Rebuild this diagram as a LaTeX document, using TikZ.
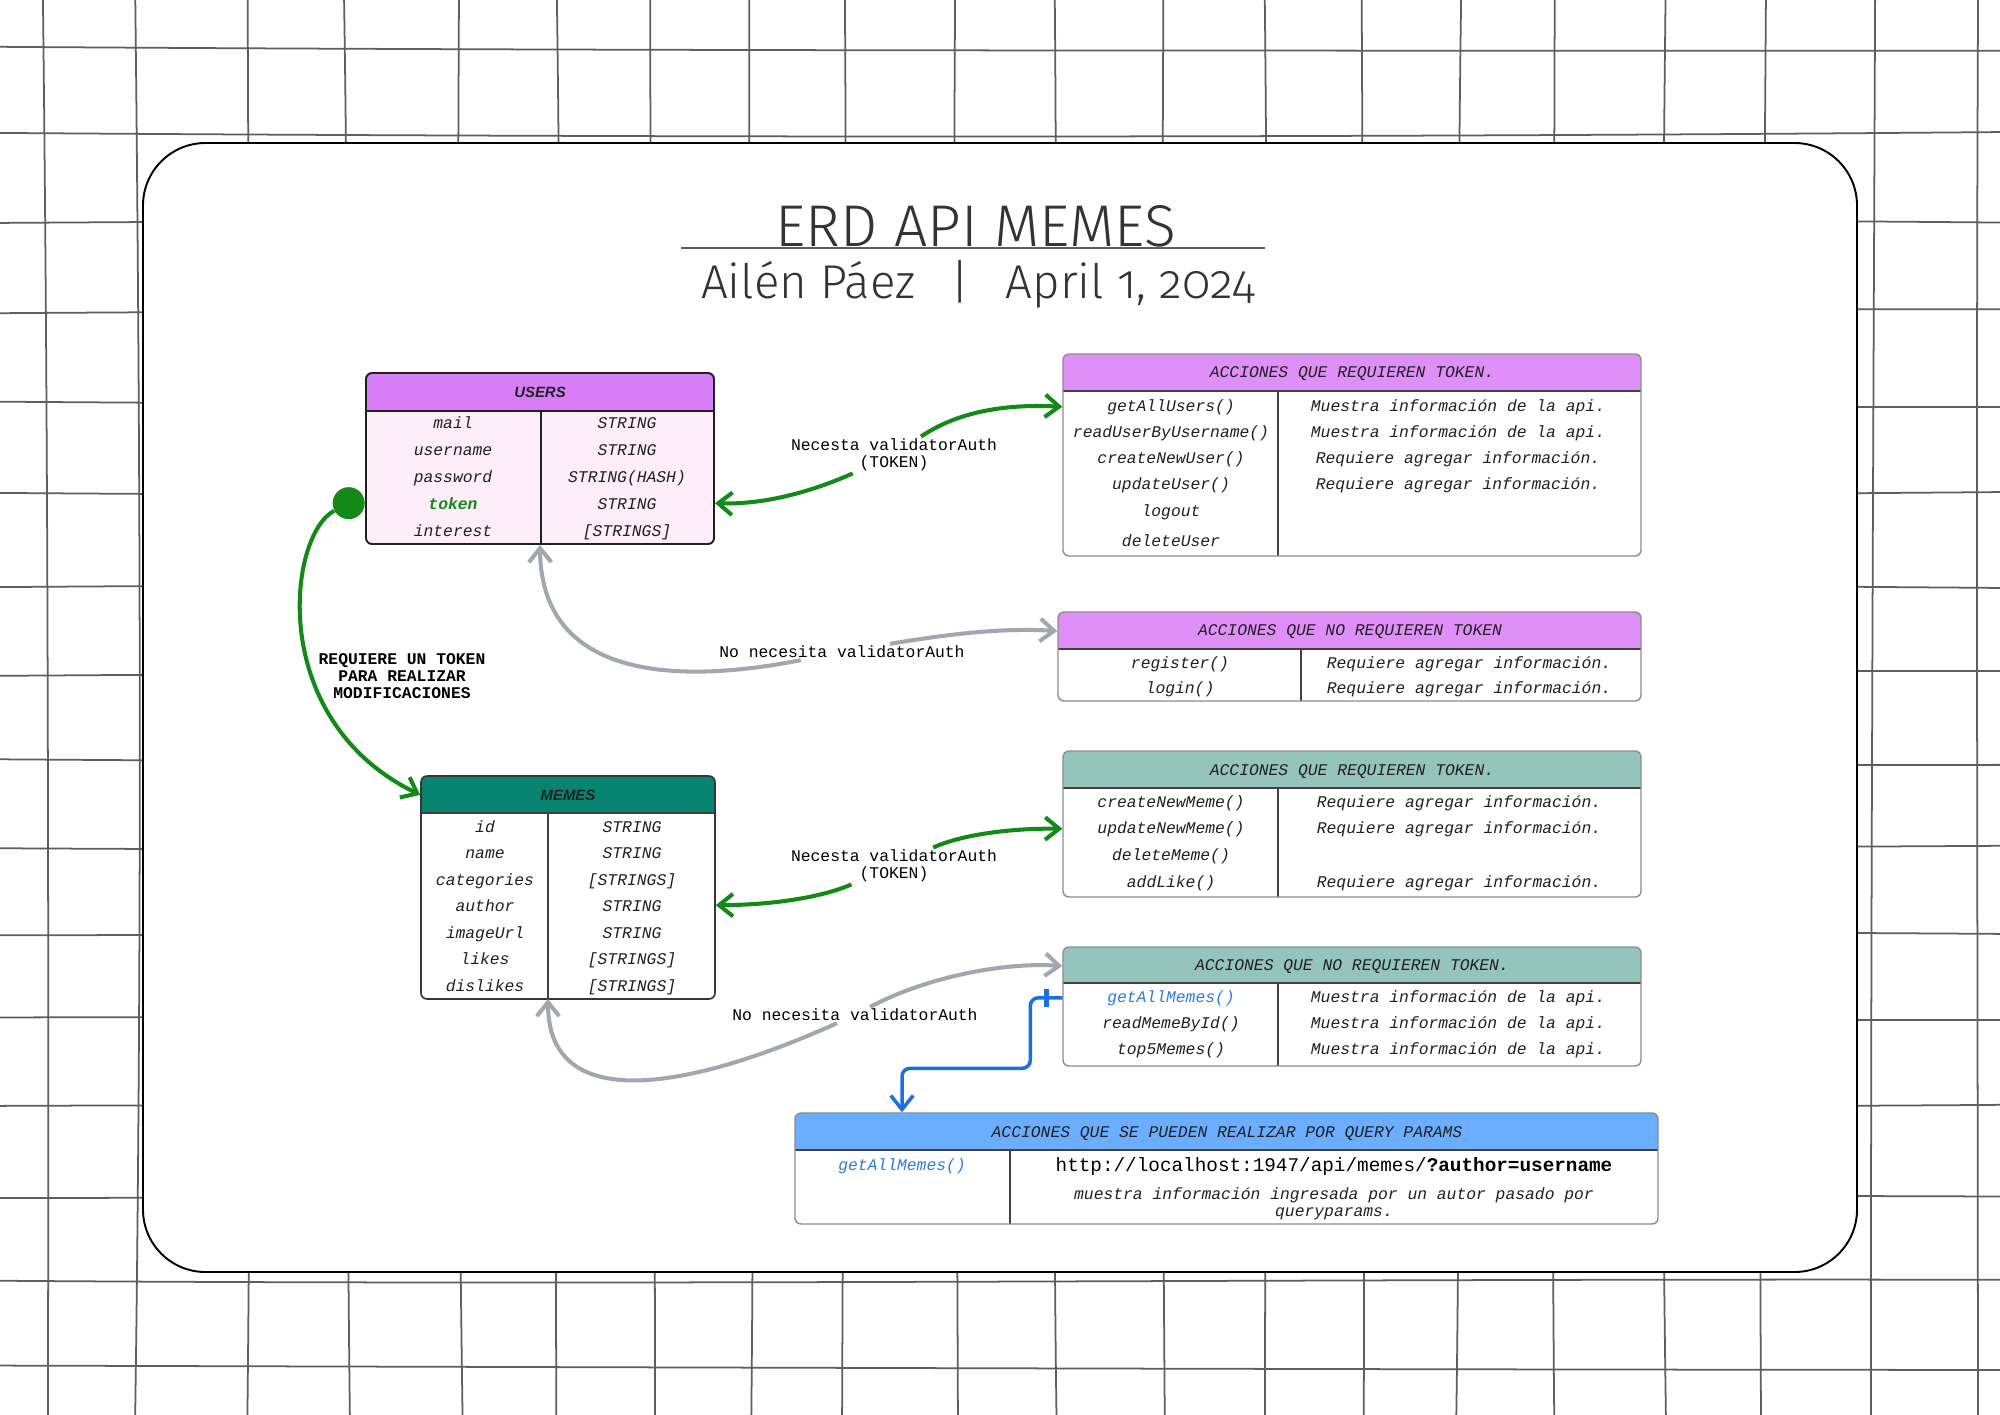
\documentclass[tikz,border=0pt]{standalone}
\usepackage{fontspec}
\usepackage{xcolor}
\usepackage{tikz}
\usetikzlibrary{arrows.meta,fit,calc}
\setmainfont{Liberation Sans}
\newfontfamily\monofont{Liberation Mono}
\newfontfamily\headfont{Liberation Sans}
\newfontfamily\titlefont{Fira Sans Light}[Numbers=OldStyle]
\definecolor{erdgrid}{HTML}{5E5E5E}
\definecolor{erdink}{HTML}{202020}
\definecolor{erdline}{HTML}{8C8C8C}
\definecolor{titlegray}{HTML}{333333}
\definecolor{userhead}{HTML}{D77EF6}
\definecolor{userbody}{HTML}{FEEEFB}
\definecolor{useract}{HTML}{DF8FF8}
\definecolor{memehead}{HTML}{068470}
\definecolor{memeact}{HTML}{95C4BD}
\definecolor{queryhead}{HTML}{6BAEFF}
\definecolor{tokengreen}{HTML}{138A17}
\definecolor{freegray}{HTML}{A2A6AE}
\definecolor{queryblue}{HTML}{1C6FE3}
\definecolor{linkblue}{HTML}{2F7BE0}
\tikzset{
  gridrule/.style={draw=erdgrid,line width=1pt},
  tblbox/.style={draw=erdline,line width=0.8pt,rounded corners=0.12cm,inner sep=0pt},
  tblrule/.style={draw=erdink!85,line width=0.8pt},
  cell/.style={font=\monofont\itshape\fontsize{9.3}{11}\selectfont,text=erdink,anchor=base,inner sep=1pt},
  tblhead/.style={font=\headfont\bfseries\itshape\fontsize{8.5}{10}\selectfont,text=erdink,anchor=base},
  linklbl/.style={font=\monofont\fontsize{9.3}{9.9}\selectfont,text=black,align=center,inner sep=1pt},
  tokenline/.style={draw=tokengreen,line width=2.3pt,-{Straight Barb[length=0.28cm,width=0.45cm]}},
  freeline/.style={draw=freegray,line width=2.3pt,-{Straight Barb[length=0.28cm,width=0.45cm]}},
  queryline/.style={draw=queryblue,line width=2pt,rounded corners=0.16cm,-{Straight Barb[length=0.28cm,width=0.45cm]}},
  onebar/.style={sharp corners,fill=queryblue,minimum width=0.09cm,minimum height=0.36cm,inner sep=0pt},
  tokdot/.style={circle,fill=tokengreen,minimum size=0.64cm,inner sep=0pt}
}
\begin{document}
\begin{tikzpicture}[x=0.02cm,y=-0.02cm]
\useasboundingbox (0,0) rectangle (2000,1414);
\fill[white] (0,0) rectangle (2000,1414);
% hand drawn grid
\begin{scope}
\clip (0,0) rectangle (2000,1414);
\foreach \gx in {45,138,250,347,460,559,653,751,843,957,1055,1166,1267,1361,1459,1552,1663,1763,1874,1977}
  \draw[gridrule] ({\gx+3*sin(7*\gx)},-5) .. controls ({\gx-5*sin(5*\gx)},470) and ({\gx+5*sin(3*\gx)},940) .. ({\gx-3*sin(6*\gx)},1419);
\foreach \gy in {48,135,220,312,404,495,585,674,762,848,933,1020,1106,1195,1282,1367}
  \draw[gridrule] (-5,{\gy+3*sin(7*\gy)}) .. controls (667,{\gy-4*sin(5*\gy)}) and (1333,{\gy+4*sin(3*\gy)}) .. (2005,{\gy-3*sin(6*\gy)});
\end{scope}
\draw[fill=white,line width=1.1pt,rounded corners=1.25cm] (143,143) rectangle (1857,1272);

% title
\node[font=\titlefont\fontsize{33.5}{38}\selectfont,text=titlegray,anchor=base] (title) at (976,246) {ERD API MEMES};
\draw[erdgrid,line width=1pt] (681,248) -- (1265,248);
\node[font=\titlefont\fontsize{27}{30}\selectfont,text=titlegray,anchor=base] (subtitle) at (978,298) {Ailén Páez\hspace{0.75em}|\hspace{0.75em}April 1, 2024};

% USERS
\fill[userbody,rounded corners=0.12cm] (366,373) rectangle (714,544);
\fill[userhead,rounded corners=0.12cm] (366,373) rectangle (714,411);
\fill[userhead] (366,400) rectangle (714,411);
\draw[tblrule,draw=erdink] (366,411) -- (714,411) (541,411) -- (541,544);
\node[tblbox,draw=erdink,line width=1.1pt,fit={(366,373) (714,544)}] (users) {};
\node[tblhead] (uhd) at (540,397) {USERS};
\node[cell] (ua1) at (453,428) {mail};
\node[cell] (ub1) at (627,428) {STRING};
\node[cell] (ua2) at (453,455) {username};
\node[cell] (ub2) at (627,455) {STRING};
\node[cell] (ua3) at (453,482) {password};
\node[cell] (ub3) at (627,482) {STRING(HASH)};
\node[cell,font=\monofont\bfseries\itshape\fontsize{9.3}{11}\selectfont,text=tokengreen] (ua4) at (453,509) {token};
\node[cell] (ub4) at (627,509) {STRING};
\node[cell] (ua5) at (453,536) {interest};
\node[cell] (ub5) at (627,536) {[STRINGS]};

% users: actions with token
\fill[white,rounded corners=0.12cm] (1063,354) rectangle (1641,556);
\fill[useract,rounded corners=0.12cm] (1063,354) rectangle (1641,391);
\fill[useract] (1063,380) rectangle (1641,391);
\draw[tblrule] (1063,391) -- (1641,391) (1278,391) -- (1278,556);
\node[tblbox,fit={(1063,354) (1641,556)}] (utk) {};
\node[cell] (utkhd) at (1352,377) {ACCIONES QUE REQUIEREN TOKEN.};
\node[cell] (utka1) at (1171,411) {getAllUsers()};
\node[cell] (utkb1) at (1458,411) {Muestra información de la api.};
\node[cell] (utka2) at (1171,437) {readUserByUsername()};
\node[cell] (utkb2) at (1458,437) {Muestra información de la api.};
\node[cell] (utka3) at (1171,463) {createNewUser()};
\node[cell] (utkb3) at (1458,463) {Requiere agregar información.};
\node[cell] (utka4) at (1171,489) {updateUser()};
\node[cell] (utkb4) at (1458,489) {Requiere agregar información.};
\node[cell] (utka5) at (1171,516) {logout};
\node[cell] (utka6) at (1171,546) {deleteUser};

% users: actions without token
\fill[white,rounded corners=0.12cm] (1058,612) rectangle (1641,701);
\fill[useract,rounded corners=0.12cm] (1058,612) rectangle (1641,649);
\fill[useract] (1058,638) rectangle (1641,649);
\draw[tblrule] (1058,649) -- (1641,649) (1301,649) -- (1301,701);
\node[tblbox,fit={(1058,612) (1641,701)}] (unt) {};
\node[cell] (unthd) at (1350,635) {ACCIONES QUE NO REQUIEREN TOKEN};
\node[cell] (unta1) at (1180,668) {register()};
\node[cell] (untb1) at (1469,668) {Requiere agregar información.};
\node[cell] (unta2) at (1180,693) {login()};
\node[cell] (untb2) at (1469,693) {Requiere agregar información.};

% MEMES
\fill[white,rounded corners=0.12cm] (421,776) rectangle (715,999);
\fill[memehead,rounded corners=0.12cm] (421,776) rectangle (715,813);
\fill[memehead] (421,802) rectangle (715,813);
\draw[tblrule] (421,813) -- (715,813) (548,813) -- (548,999);
\node[tblbox,draw=erdink!90,line width=0.9pt,fit={(421,776) (715,999)}] (memes) {};
\coordinate (mdiv) at (548,999);
\node[tblhead] (mhd) at (568,800) {MEMES};
\node[cell] (ma1) at (485,832) {id};
\node[cell] (mb1) at (632,832) {STRING};
\node[cell] (ma2) at (485,858) {name};
\node[cell] (mb2) at (632,858) {STRING};
\node[cell] (ma3) at (485,885) {categories};
\node[cell] (mb3) at (632,885) {[STRINGS]};
\node[cell] (ma4) at (485,911) {author};
\node[cell] (mb4) at (632,911) {STRING};
\node[cell] (ma5) at (485,938) {imageUrl};
\node[cell] (mb5) at (632,938) {STRING};
\node[cell] (ma6) at (485,964) {likes};
\node[cell] (mb6) at (632,964) {[STRINGS]};
\node[cell] (ma7) at (485,991) {dislikes};
\node[cell] (mb7) at (632,991) {[STRINGS]};

% memes: actions with token
\fill[white,rounded corners=0.12cm] (1063,751) rectangle (1641,897);
\fill[memeact,rounded corners=0.12cm] (1063,751) rectangle (1641,788);
\fill[memeact] (1063,777) rectangle (1641,788);
\draw[tblrule] (1063,788) -- (1641,788) (1278,788) -- (1278,897);
\node[tblbox,fit={(1063,751) (1641,897)}] (mtk) {};
\node[cell] (mtkhd) at (1352,775) {ACCIONES QUE REQUIEREN TOKEN.};
\node[cell] (mtka1) at (1171,807) {createNewMeme()};
\node[cell] (mtkb1) at (1459,807) {Requiere agregar información.};
\node[cell] (mtka2) at (1171,833) {updateNewMeme()};
\node[cell] (mtkb2) at (1459,833) {Requiere agregar información.};
\node[cell] (mtka3) at (1171,860) {deleteMeme()};
\node[cell] (mtka4) at (1171,887) {addLike()};
\node[cell] (mtkb4) at (1459,887) {Requiere agregar información.};

% memes: actions without token
\fill[white,rounded corners=0.12cm] (1063,947) rectangle (1641,1066);
\fill[memeact,rounded corners=0.12cm] (1063,947) rectangle (1641,983);
\fill[memeact] (1063,972) rectangle (1641,983);
\draw[tblrule] (1063,983) -- (1641,983) (1278,983) -- (1278,1066);
\node[tblbox,fit={(1063,947) (1641,1066)}] (mnt) {};
\node[cell] (mnthd) at (1352,970) {ACCIONES QUE NO REQUIEREN TOKEN.};
\node[cell,text=linkblue] (mnta1) at (1171,1002) {getAllMemes()};
\node[cell] (mntb1) at (1458,1002) {Muestra información de la api.};
\node[cell] (mnta2) at (1171,1028) {readMemeById()};
\node[cell] (mntb2) at (1458,1028) {Muestra información de la api.};
\node[cell] (mnta3) at (1171,1054) {top5Memes()};
\node[cell] (mntb3) at (1458,1054) {Muestra información de la api.};

% query params
\fill[white,rounded corners=0.12cm] (795,1113) rectangle (1658,1224);
\fill[queryhead,rounded corners=0.12cm] (795,1113) rectangle (1658,1150);
\fill[queryhead] (795,1139) rectangle (1658,1150);
\draw[tblrule] (795,1150) -- (1658,1150) (1010,1150) -- (1010,1224);
\node[tblbox,fit={(795,1113) (1658,1224)}] (qp) {};
\node[cell] (qphd) at (1227,1137) {ACCIONES QUE SE PUEDEN REALIZAR POR QUERY PARAMS};
\node[cell,text=linkblue] (qpa1) at (902,1170) {getAllMemes()};
\node[cell,font=\monofont\fontsize{11}{13}\selectfont,text=black] (qpurl) at (1334,1171) {http://localhost:1947/api/memes/\textbf{?author=username}};
\node[cell] (qpd1) at (1334,1199) {muestra información ingresada por un autor pasado por};
\node[cell] (qpd2) at (1334,1216) {queryparams.};

% connectors
\node[tokdot,anchor=east] (tokdot) at (users.west |- ua4) {};
\draw[tokenline] (tokdot) .. controls (288,535) and (266,720) .. (memes.west |- mhd);
\node[linklbl,font=\monofont\bfseries\fontsize{9.3}{9.9}\selectfont] (lblreq) at (402,676) {REQUIERE UN TOKEN\\PARA REALIZAR\\MODIFICACIONES};

\node[linklbl] (lblut) at (894,455) {Necesta validatorAuth\\(TOKEN)};
\draw[tokenline] (lblut) .. controls (960,410) and (1010,404) .. (utk.west |- utka1);
\draw[tokenline] (lblut) .. controls (820,488) and (770,505) .. (users.east |- ua4);

\node[linklbl] (lblun) at (842,652) {No necesita validatorAuth};
\draw[freeline] (lblun) .. controls (960,632) and (1010,628) .. (unt.west |- unthd);
\draw[freeline] (lblun) .. controls (700,680) and (541,690) .. (users.south);

\node[linklbl] (lblmt) at (894,866) {Necesta validatorAuth\\(TOKEN)};
\draw[tokenline] (lblmt) .. controls (960,835) and (1010,828) .. (mtk.west |- mtka2);
\draw[tokenline] (lblmt) .. controls (820,898) and (770,905) .. (memes.east |- ma4);

\node[linklbl] (lblmn) at (855,1015) {No necesita validatorAuth};
\draw[freeline] (lblmn) .. controls (930,975) and (1010,962) .. (mnt.west |- mnthd);
\draw[freeline] (lblmn) .. controls (700,1085) and (548,1120) .. (mdiv);

\draw[queryline] (mnt.west |- mnta1) -- node[onebar] {} ++(-32,0) |- ($(qp.north -| qpa1)+(0,-44)$) -- (qp.north -| qpa1);
\end{tikzpicture}
\end{document}
